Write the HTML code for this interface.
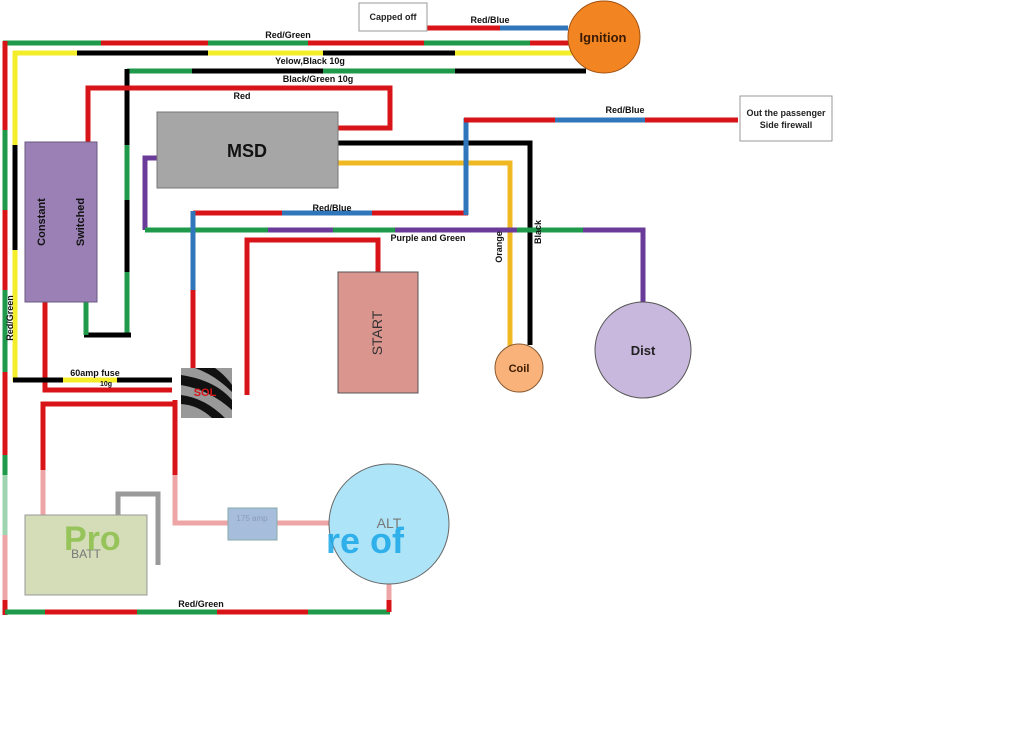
<!DOCTYPE html>
<html><head><meta charset="utf-8"><style>
html,body{margin:0;padding:0;background:#fff;}
svg{display:block;font-family:"Liberation Sans",Arial,sans-serif;}
</style></head><body>
<svg width="1023" height="731" viewBox="0 0 1023 731" xmlns="http://www.w3.org/2000/svg">
<g stroke-width="5" fill="none" stroke-linecap="butt">
<line x1="3" y1="43" x2="101" y2="43" stroke="#1e9a4a"/>
<line x1="101" y1="43" x2="208" y2="43" stroke="#d81418"/>
<line x1="208" y1="43" x2="308" y2="43" stroke="#1e9a4a"/>
<line x1="308" y1="43" x2="424" y2="43" stroke="#d81418"/>
<line x1="424" y1="43" x2="530" y2="43" stroke="#1e9a4a"/>
<line x1="530" y1="43" x2="572" y2="43" stroke="#d81418"/>
<line x1="5" y1="41" x2="5" y2="130" stroke="#d81418"/>
<line x1="5" y1="130" x2="5" y2="210" stroke="#1e9a4a"/>
<line x1="5" y1="210" x2="5" y2="290" stroke="#d81418"/>
<line x1="5" y1="290" x2="5" y2="372" stroke="#1e9a4a"/>
<line x1="5" y1="372" x2="5" y2="455" stroke="#d81418"/>
<line x1="5" y1="455" x2="5" y2="475" stroke="#1e9a4a"/>
<line x1="5" y1="475" x2="5" y2="535" stroke="#9ed4b0"/>
<line x1="5" y1="535" x2="5" y2="600" stroke="#eea5a5"/>
<line x1="5" y1="600" x2="5" y2="615" stroke="#d81418"/>
<line x1="13" y1="53" x2="77" y2="53" stroke="#f4ee2a"/>
<line x1="77" y1="53" x2="208" y2="53" stroke="#000"/>
<line x1="208" y1="53" x2="323" y2="53" stroke="#f4ee2a"/>
<line x1="323" y1="53" x2="455" y2="53" stroke="#000"/>
<line x1="455" y1="53" x2="572" y2="53" stroke="#f4ee2a"/>
<line x1="15" y1="51" x2="15" y2="145" stroke="#f4ee2a"/>
<line x1="15" y1="145" x2="15" y2="250" stroke="#000"/>
<line x1="15" y1="250" x2="15" y2="382" stroke="#f4ee2a"/>
<line x1="127" y1="71" x2="192" y2="71" stroke="#1e9a4a"/>
<line x1="192" y1="71" x2="323" y2="71" stroke="#000"/>
<line x1="323" y1="71" x2="455" y2="71" stroke="#1e9a4a"/>
<line x1="455" y1="71" x2="586" y2="71" stroke="#000"/>
<line x1="127" y1="69" x2="127" y2="145" stroke="#000"/>
<line x1="127" y1="145" x2="127" y2="200" stroke="#1e9a4a"/>
<line x1="127" y1="200" x2="127" y2="272" stroke="#000"/>
<line x1="127" y1="272" x2="127" y2="337" stroke="#1e9a4a"/>
<line x1="84" y1="335" x2="131" y2="335" stroke="#000"/>
<line x1="86" y1="302" x2="86" y2="335" stroke="#1e9a4a"/>
<polyline points="88,142 88,88 390,88 390,128 338,128" stroke="#d81418"/>
<polyline points="338,143 530,143 530,345" stroke="#000"/>
<polyline points="338,163 510,163 510,346" stroke="#f0b823"/>
<polyline points="157,158 145,158 145,230" stroke="#6a3b98"/>
<line x1="145" y1="230" x2="268" y2="230" stroke="#1e9a4a"/>
<line x1="268" y1="230" x2="333" y2="230" stroke="#6a3b98"/>
<line x1="333" y1="230" x2="395" y2="230" stroke="#1e9a4a"/>
<line x1="395" y1="230" x2="517" y2="230" stroke="#6a3b98"/>
<line x1="517" y1="230" x2="583" y2="230" stroke="#1e9a4a"/>
<polyline points="583,230 643,230 643,306" stroke="#6a3b98"/>
<line x1="193" y1="213" x2="282" y2="213" stroke="#d81418"/>
<line x1="282" y1="213" x2="372" y2="213" stroke="#2f76bb"/>
<line x1="372" y1="213" x2="468" y2="213" stroke="#d81418"/>
<line x1="466" y1="215" x2="466" y2="118" stroke="#2f76bb"/>
<line x1="464" y1="120" x2="555" y2="120" stroke="#d81418"/>
<line x1="555" y1="120" x2="645" y2="120" stroke="#2f76bb"/>
<line x1="645" y1="120" x2="738" y2="120" stroke="#d81418"/>
<line x1="193" y1="211" x2="193" y2="290" stroke="#2f76bb"/>
<line x1="193" y1="290" x2="193" y2="375" stroke="#d81418"/>
<line x1="427" y1="28" x2="500" y2="28" stroke="#d81418"/>
<line x1="500" y1="28" x2="568" y2="28" stroke="#2f76bb"/>
<polyline points="45,302 45,390 172,390" stroke="#d81418"/>
<polyline points="247,395 247,240 378,240 378,272" stroke="#d81418"/>
<line x1="13" y1="380" x2="172" y2="380" stroke="#000"/>
<line x1="63" y1="380" x2="117" y2="380" stroke="#f4ee2a"/>
<polyline points="43,470 43,404 175,404" stroke="#d81418"/>
<line x1="43" y1="470" x2="43" y2="515" stroke="#eea5a5"/>
<line x1="175" y1="400" x2="175" y2="475" stroke="#d81418"/>
<polyline points="175,475 175,523 228,523" stroke="#eea5a5"/>
<line x1="277" y1="523" x2="330" y2="523" stroke="#eea5a5"/>
<polyline points="118,515 118,494 158,494 158,565" stroke="#9a9a9a"/>
<line x1="5" y1="612" x2="45" y2="612" stroke="#1e9a4a"/>
<line x1="45" y1="612" x2="137" y2="612" stroke="#d81418"/>
<line x1="137" y1="612" x2="217" y2="612" stroke="#1e9a4a"/>
<line x1="217" y1="612" x2="308" y2="612" stroke="#d81418"/>
<line x1="308" y1="612" x2="390" y2="612" stroke="#1e9a4a"/>
<line x1="389" y1="584" x2="389" y2="600" stroke="#eea5a5"/>
<line x1="389" y1="600" x2="389" y2="612" stroke="#d81418"/>
</g>
<rect x="359" y="3" width="68" height="28" fill="#fff" stroke="#999"/>
<text x="393" y="20" font-size="9" font-weight="bold" text-anchor="middle" fill="#222">Capped off</text>
<circle cx="604" cy="37" r="36" fill="#f28522" stroke="#a05010"/>
<text x="603" y="42" font-size="13" font-weight="bold" text-anchor="middle" fill="#3a1a00">Ignition</text>
<rect x="740" y="96" width="92" height="45" fill="#fff" stroke="#999"/>
<text x="786" y="116" font-size="9" font-weight="bold" text-anchor="middle" fill="#222">Out the passenger</text>
<text x="786" y="128" font-size="9" font-weight="bold" text-anchor="middle" fill="#222">Side firewall</text>
<rect x="157" y="112" width="181" height="76" fill="#a6a6a6" stroke="#777"/>
<text x="247" y="157" font-size="18" font-weight="bold" text-anchor="middle" fill="#111">MSD</text>
<rect x="25" y="142" width="72" height="160" fill="#9b80b5" stroke="#6a5a80"/>
<text transform="translate(45,222) rotate(-90)" font-size="11" font-weight="bold" text-anchor="middle" fill="#111">Constant</text>
<text transform="translate(84,222) rotate(-90)" font-size="11" font-weight="bold" text-anchor="middle" fill="#111">Switched</text>
<rect x="338" y="272" width="80" height="121" fill="#da958f" stroke="#555"/>
<text transform="translate(382,333) rotate(-90)" font-size="14" text-anchor="middle" fill="#333">START</text>
<circle cx="519" cy="368" r="24" fill="#f9b27a" stroke="#8a5a30"/>
<text x="519" y="372" font-size="11" font-weight="bold" text-anchor="middle" fill="#3a1a00">Coil</text>
<circle cx="643" cy="350" r="48" fill="#c9b8dd" stroke="#555"/>
<text x="643" y="355" font-size="13" font-weight="bold" text-anchor="middle" fill="#222">Dist</text>
<rect x="181" y="368" width="51" height="50" fill="#999"/>
<path d="M181,375 Q215,380 232,400 L232,410 Q210,390 181,385Z M181,395 Q205,398 225,418 L212,418 Q198,405 181,404Z M195,368 L215,368 Q225,375 232,385 L232,392 Q215,375 195,368Z" fill="#111"/>
<text x="205" y="396" font-size="11" font-weight="bold" text-anchor="middle" fill="#d81418">SOL</text>
<rect x="25" y="515" width="122" height="80" fill="#d4ddb8" stroke="#999"/>
<text x="86" y="558" font-size="12" text-anchor="middle" fill="#777">BATT</text>
<text x="64" y="550" font-size="34" font-weight="bold" fill="#8cbf4a" opacity="0.85">Pro</text>
<rect x="228" y="508" width="49" height="32" fill="#a6bddb" stroke="#8aa"/>
<text x="252" y="521" font-size="8" text-anchor="middle" fill="#8a9ab8">175 amp</text>
<circle cx="389" cy="524" r="60" fill="#aee4f7" stroke="#666"/>
<text x="389" y="528" font-size="14" text-anchor="middle" fill="#777">ALT</text>
<text x="326" y="553" font-size="36" font-weight="bold" fill="#1aa8e8" opacity="0.85">re of</text>
<g font-size="9" font-weight="bold" fill="#111">
<text x="490" y="23" text-anchor="middle">Red/Blue</text>
<text x="288" y="38" text-anchor="middle">Red/Green</text>
<text x="310" y="64" text-anchor="middle">Yelow,Black 10g</text>
<text x="318" y="82" text-anchor="middle">Black/Green 10g</text>
<text x="242" y="99" text-anchor="middle">Red</text>
<text x="625" y="113" text-anchor="middle">Red/Blue</text>
<text x="332" y="211" text-anchor="middle">Red/Blue</text>
<text x="428" y="241" text-anchor="middle">Purple and Green</text>
<text transform="translate(502,247) rotate(-90)" text-anchor="middle">Orange</text>
<text transform="translate(541,232) rotate(-90)" text-anchor="middle">Black</text>
<text transform="translate(13,318) rotate(-90)" text-anchor="middle">Red/Green</text>
<text x="95" y="376" text-anchor="middle">60amp fuse</text>
<text x="106" y="386" text-anchor="middle" font-size="7">10g</text>
<text x="201" y="607" text-anchor="middle">Red/Green</text>
</g>
</svg>
</body></html>
